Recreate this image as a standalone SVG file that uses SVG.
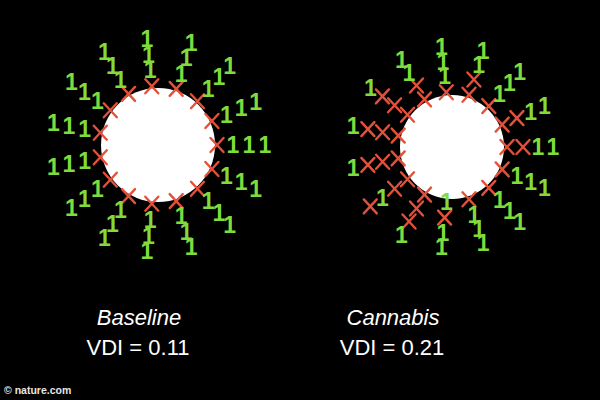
<svg xmlns="http://www.w3.org/2000/svg" xmlns:xlink="http://www.w3.org/1999/xlink" width="600" height="400" viewBox="0 0 600 400">
<style>
.bg{fill:#000}
.disc{fill:#fff}
.x{fill:none;stroke:#e4513b;stroke-width:2.4;stroke-linecap:round}
.one{font-family:"Liberation Sans",Arial,sans-serif;font-weight:bold;font-size:23px;fill:#7fdc3c;text-anchor:middle}
.lbl{font-family:"Liberation Sans",Arial,sans-serif;font-size:22px;fill:#fff;text-anchor:middle}
.it{font-style:italic}
.credit{font-family:"Liberation Sans",Arial,sans-serif;font-weight:bold;font-size:10.5px;fill:#e6e6e6}
</style>
<defs>
<path id="x" class="x" d="M-6.5,-7 L6.5,7 M6.5,-7 L-6.5,7"/>
</defs>
<rect class="bg" width="600" height="400"/>
<g id="baseline">
<circle class="disc" cx="158" cy="145" r="57"/>
<g id="baseline-x">
<use xlink:href="#x" x="217" y="145"/>
<use xlink:href="#x" x="211.9" y="169"/>
<use xlink:href="#x" x="197.5" y="188.8"/>
<use xlink:href="#x" x="176.2" y="201.1"/>
<use xlink:href="#x" x="151.8" y="203.7"/>
<use xlink:href="#x" x="128.5" y="196.1"/>
<use xlink:href="#x" x="110.3" y="179.7"/>
<use xlink:href="#x" x="100.3" y="157.3"/>
<use xlink:href="#x" x="100.3" y="132.7"/>
<use xlink:href="#x" x="110.3" y="110.3"/>
<use xlink:href="#x" x="128.5" y="93.9"/>
<use xlink:href="#x" x="151.8" y="86.3"/>
<use xlink:href="#x" x="176.2" y="88.9"/>
<use xlink:href="#x" x="197.5" y="101.2"/>
<use xlink:href="#x" x="211.9" y="121"/>
</g>
<g id="baseline-ones">
<text class="one" x="233" y="153">1</text>
<text class="one" x="226.5" y="183.5">1</text>
<text class="one" x="208.2" y="208.7">1</text>
<text class="one" x="181.2" y="224.3">1</text>
<text class="one" x="150.2" y="227.6">1</text>
<text class="one" x="120.5" y="218">1</text>
<text class="one" x="97.3" y="197.1">1</text>
<text class="one" x="84.6" y="168.6">1</text>
<text class="one" x="84.6" y="137.4">1</text>
<text class="one" x="97.3" y="108.9">1</text>
<text class="one" x="120.5" y="88">1</text>
<text class="one" x="150.2" y="78.4">1</text>
<text class="one" x="181.2" y="81.7">1</text>
<text class="one" x="208.2" y="97.3">1</text>
<text class="one" x="226.5" y="122.5">1</text>

<text class="one" x="249" y="153">1</text>
<text class="one" x="241.1" y="190">1</text>
<text class="one" x="218.9" y="220.6">1</text>
<text class="one" x="186.1" y="239.6">1</text>
<text class="one" x="148.5" y="243.5">1</text>
<text class="one" x="112.5" y="231.8">1</text>
<text class="one" x="84.4" y="206.5">1</text>
<text class="one" x="69" y="171.9">1</text>
<text class="one" x="69" y="134.1">1</text>
<text class="one" x="84.4" y="99.5">1</text>
<text class="one" x="112.5" y="74.2">1</text>
<text class="one" x="148.5" y="62.5">1</text>
<text class="one" x="186.1" y="66.4">1</text>
<text class="one" x="218.9" y="85.4">1</text>
<text class="one" x="241.1" y="116">1</text>

<text class="one" x="265" y="153">1</text>
<text class="one" x="255.7" y="196.5">1</text>
<text class="one" x="229.6" y="232.5">1</text>
<text class="one" x="191.1" y="254.8">1</text>
<text class="one" x="146.8" y="259.4">1</text>
<text class="one" x="104.5" y="245.7">1</text>
<text class="one" x="71.4" y="215.9">1</text>
<text class="one" x="53.3" y="175.2">1</text>
<text class="one" x="53.3" y="130.8">1</text>
<text class="one" x="71.4" y="90.1">1</text>
<text class="one" x="104.5" y="60.3">1</text>
<text class="one" x="146.8" y="46.6">1</text>
<text class="one" x="191.1" y="51.2">1</text>
<text class="one" x="229.6" y="73.5">1</text>
<text class="one" x="255.7" y="109.5">1</text>
</g>
</g>
<g id="cannabis">
<circle class="disc" cx="452" cy="147" r="52"/>
<g id="cannabis-x">
<use xlink:href="#x" x="507" y="147"/>
<use xlink:href="#x" x="523" y="147"/>
<use xlink:href="#x" x="502.2" y="169.4"/>
<use xlink:href="#x" x="488.8" y="187.9"/>
<use xlink:href="#x" x="469" y="199.3"/>
<use xlink:href="#x" x="444.6" y="217.6"/>
<use xlink:href="#x" x="424.5" y="194.6"/>
<use xlink:href="#x" x="416.5" y="208.5"/>
<use xlink:href="#x" x="409" y="221.5"/>
<use xlink:href="#x" x="407.5" y="179.3"/>
<use xlink:href="#x" x="394.6" y="188.7"/>
<use xlink:href="#x" x="370.3" y="206.4"/>
<use xlink:href="#x" x="398.2" y="158.4"/>
<use xlink:href="#x" x="382.6" y="161.8"/>
<use xlink:href="#x" x="367.9" y="164.9"/>
<use xlink:href="#x" x="398.2" y="135.6"/>
<use xlink:href="#x" x="382.6" y="132.2"/>
<use xlink:href="#x" x="367.9" y="129.1"/>
<use xlink:href="#x" x="407.5" y="114.7"/>
<use xlink:href="#x" x="394.6" y="105.3"/>
<use xlink:href="#x" x="382.4" y="96.4"/>
<use xlink:href="#x" x="424.5" y="99.4"/>
<use xlink:href="#x" x="416.5" y="85.5"/>
<use xlink:href="#x" x="446.3" y="92.3"/>
<use xlink:href="#x" x="469" y="94.7"/>
<use xlink:href="#x" x="473.9" y="79.5"/>
<use xlink:href="#x" x="488.8" y="106.1"/>
<use xlink:href="#x" x="502.2" y="124.6"/>
<use xlink:href="#x" x="516.9" y="118.1"/>
</g>
<g id="cannabis-ones">
<text class="one" x="538" y="155">1</text>
<text class="one" x="553" y="155">1</text>
<text class="one" x="516.9" y="183.9">1</text>
<text class="one" x="530.6" y="190">1</text>
<text class="one" x="544.3" y="196.1">1</text>
<text class="one" x="499.5" y="207.8">1</text>
<text class="one" x="509.5" y="218.9">1</text>
<text class="one" x="519.6" y="230.1">1</text>
<text class="one" x="473.9" y="222.5">1</text>
<text class="one" x="478.6" y="236.8">1</text>
<text class="one" x="483.2" y="251.1">1</text>
<text class="one" x="446.3" y="209.7">1</text>
<text class="one" x="443" y="240.5">1</text>
<text class="one" x="441.4" y="255.4">1</text>
<text class="one" x="401.5" y="242.5">1</text>
<text class="one" x="382.4" y="205.6">1</text>
<text class="one" x="353.2" y="176">1</text>
<text class="one" x="353.2" y="134">1</text>
<text class="one" x="370.3" y="95.6">1</text>
<text class="one" x="409" y="80.5">1</text>
<text class="one" x="401.5" y="67.5">1</text>
<text class="one" x="444.6" y="84.4">1</text>
<text class="one" x="443" y="69.5">1</text>
<text class="one" x="441.4" y="54.6">1</text>
<text class="one" x="478.6" y="73.2">1</text>
<text class="one" x="483.2" y="59">1</text>
<text class="one" x="499.5" y="102.2">1</text>
<text class="one" x="509.5" y="91.1">1</text>
<text class="one" x="519.6" y="80">1</text>
<text class="one" x="530.6" y="120">1</text>
<text class="one" x="544.3" y="113.9">1</text>
</g>
</g>
<g id="labels">
<text class="lbl it" x="139" y="325">Baseline</text>
<text class="lbl" x="138" y="354.5">VDI = 0.11</text>
<text class="lbl it" x="393" y="325">Cannabis</text>
<text class="lbl" x="392" y="354.5">VDI = 0.21</text>
<text class="credit" x="4" y="394">© nature.com</text>
</g>
</svg>
